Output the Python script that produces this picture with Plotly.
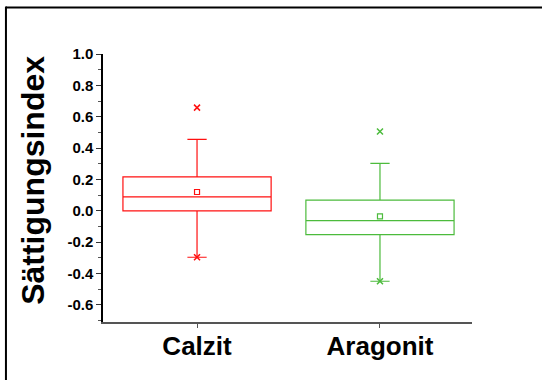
import plotly.graph_objects as go

# ---- data ----
categories = ["Calzit", "Aragonit"]
q1 = [0.00, -0.152]
median = [0.089, -0.063]
q3 = [0.217, 0.068]
lower_whisker = [-0.296, -0.449]
upper_whisker = [0.456, 0.302]
mean_vals = [0.12, -0.036]
max_vals = [0.658, 0.506]
min_vals = [-0.296, -0.449]
colors = ["#ff1010", "#4cbb3c"]

ytick_vals = [1.0, 0.8, 0.6, 0.4, 0.2, 0.0, -0.2, -0.4, -0.6]
ytick_text = ["1.0", "0.8", "0.6", "0.4", "0.2", "0.0", "-0.2", "-0.4", "-0.6"]

FONT = "Liberation Sans, Arial, sans-serif"

fig = go.Figure()
for i, cat in enumerate(categories):
    fig.add_trace(go.Box(
        x=[cat], q1=[q1[i]], median=[median[i]], q3=[q3[i]],
        lowerfence=[lower_whisker[i]], upperfence=[upper_whisker[i]],
        boxpoints=False, fillcolor="rgba(0,0,0,0)",
        line=dict(color=colors[i], width=1.2),
        width=0.81, whiskerwidth=0.13, showlegend=False,
    ))
    fig.add_trace(go.Scatter(
        x=[cat], y=[mean_vals[i]], mode="markers", showlegend=False,
        marker=dict(symbol="square-open", size=5, color=colors[i], line=dict(width=1.2)),
    ))
    fig.add_trace(go.Scatter(
        x=[cat, cat], y=[max_vals[i], min_vals[i]], mode="markers", showlegend=False,
        marker=dict(symbol="x-thin-open", size=6, color=colors[i], line=dict(width=1.5, color=colors[i])),
    ))

fig.update_layout(
    width=542, height=380,
    margin=dict(l=103, r=70, t=54, b=58),
    paper_bgcolor="white", plot_bgcolor="white",
    font=dict(family=FONT, color="black"),
    xaxis=dict(
        type="category", range=[-0.514, 1.503],
        showline=True, linecolor="#555555", linewidth=1.5,
        ticks="outside", ticklen=4, tickwidth=1, tickcolor="#555555",
        tickfont=dict(size=26, weight="bold", family=FONT),
        ticklabelstandoff=-4,
        showgrid=False, zeroline=False,
    ),
    yaxis=dict(
        range=[-0.709, 1.0],
        showline=True, linecolor="black", linewidth=1.5,
        ticks="outside", ticklen=5, tickwidth=1, tickcolor="#333333",
        tickvals=ytick_vals, ticktext=ytick_text,
        tickfont=dict(size=15, weight="bold", family=FONT),
        minor=dict(dtick=0.1, tick0=0, ticks="outside", ticklen=3, tickcolor="#555555", showgrid=False),
        showgrid=False, zeroline=False,
    ),
    annotations=[dict(
        text="Sättigungsindex", textangle=-90,
        xref="paper", yref="paper", x=-0.19, y=0.53,
        xanchor="center", yanchor="middle", showarrow=False,
        font=dict(size=32, weight="bold", family=FONT, color="black"),
    )],
    shapes=[
        dict(type="line", xref="paper", yref="paper", x0=-0.263, x1=1.2, y0=1.1735, y1=1.1735,
             line=dict(color="black", width=2)),
        dict(type="line", xref="paper", yref="paper", x0=-0.263, x1=-0.263, y0=1.177, y1=-0.25,
             line=dict(color="black", width=2)),
    ],
)

fig.write_html("out.html", config={"displayModeBar": False},
               post_script="document.body.style.margin='0px';document.body.style.overflow='hidden';")
